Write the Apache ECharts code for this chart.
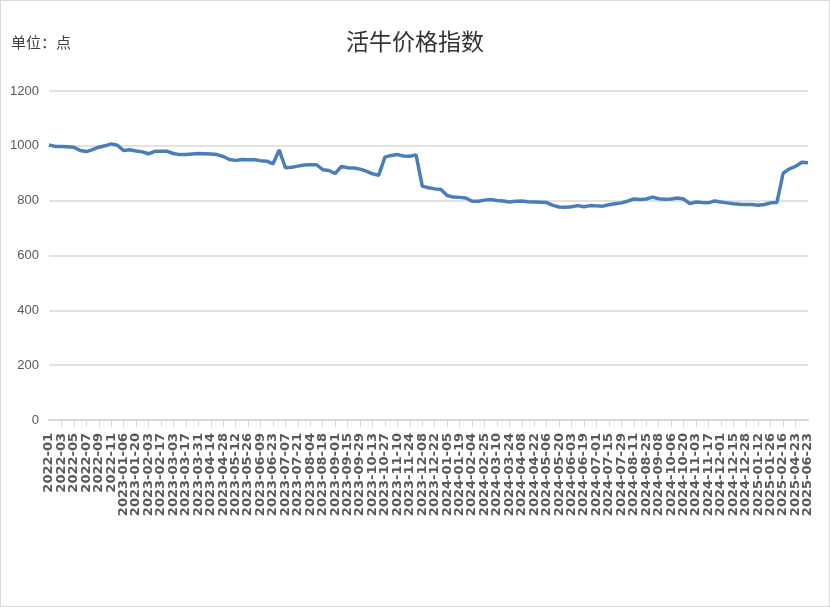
<!DOCTYPE html>
<html>
<head>
<meta charset="utf-8">
<script src="https://cdn.jsdelivr.net/npm/echarts@6/dist/echarts.min.js"></script>
<style>
  html, body { margin: 0; padding: 0; background: #fff; }
  #chart { width: 830px; height: 607px; box-sizing: border-box; border: 1px solid #d9d9d9; }
</style>
</head>
<body>
<div id="chart"></div>
<script>
// 2022 按月，2023 起按周
const months2022 = ['2022-01', '2022-02', '2022-03', '2022-04', '2022-05', '2022-06',
    '2022-07', '2022-08', '2022-09', '2022-10', '2022-11', '2022-12'];
const weeks2023 = ['2023-01-06', '2023-01-13', '2023-01-20', '2023-01-27', '2023-02-03', '2023-02-10',
    '2023-02-17', '2023-02-24', '2023-03-03', '2023-03-10', '2023-03-17', '2023-03-24', '2023-03-31',
    '2023-04-07', '2023-04-14', '2023-04-21', '2023-04-28', '2023-05-05', '2023-05-12', '2023-05-19',
    '2023-05-26', '2023-06-02', '2023-06-09', '2023-06-16', '2023-06-23', '2023-06-30', '2023-07-07',
    '2023-07-14', '2023-07-21', '2023-07-28', '2023-08-04', '2023-08-11', '2023-08-18', '2023-08-25',
    '2023-09-01', '2023-09-08', '2023-09-15', '2023-09-22', '2023-09-29', '2023-10-06', '2023-10-13',
    '2023-10-20', '2023-10-27', '2023-11-03', '2023-11-10', '2023-11-17', '2023-11-24', '2023-12-01',
    '2023-12-08', '2023-12-15', '2023-12-22', '2023-12-29'];
const weeks2024 = ['2024-01-05', '2024-01-12', '2024-01-19', '2024-01-26', '2024-02-04', '2024-02-18',
    '2024-02-25', '2024-03-03', '2024-03-10', '2024-03-17', '2024-03-24', '2024-03-31', '2024-04-08',
    '2024-04-14', '2024-04-22', '2024-04-28', '2024-05-06', '2024-05-12', '2024-05-20', '2024-05-26',
    '2024-06-03', '2024-06-09', '2024-06-19', '2024-06-23', '2024-07-01', '2024-07-08', '2024-07-15',
    '2024-07-22', '2024-07-29', '2024-08-04', '2024-08-11', '2024-08-18', '2024-08-25', '2024-09-01',
    '2024-09-08', '2024-09-22', '2024-10-06', '2024-10-13', '2024-10-20', '2024-10-27', '2024-11-03',
    '2024-11-10', '2024-11-17', '2024-11-24', '2024-12-01', '2024-12-08', '2024-12-15', '2024-12-22',
    '2024-12-28'];
const weeks2025 = ['2025-01-05', '2025-01-12', '2025-01-19', '2025-01-26', '2025-02-09', '2025-02-16',
    '2025-03-23', '2025-04-23', '2025-05-23', '2025-06-23'];

const values2022 = [1003, 998, 998, 997, 995, 983, 979, 986, 995, 1000, 1007, 1002];
const values2023 = [983, 986, 981, 978, 971, 980, 980, 980, 972, 968, 968, 970, 972,
    971, 970, 968, 961, 950, 947, 950, 949, 949, 946, 944, 934, 985,
    920, 922, 926, 930, 931, 931, 913, 910, 899, 925, 920, 919, 915,
    908, 898, 893, 959, 965, 968, 963, 962, 967, 853, 847, 843, 841];
const values2024 = [819, 813, 812, 810, 798, 798, 802, 804, 801, 799, 795, 798, 799,
    796, 795, 794, 793, 783, 777, 776, 778, 782, 778, 782, 781, 780,
    785, 789, 792, 798, 806, 804, 806, 813, 807, 805, 806, 810, 806,
    789, 795, 793, 792, 799, 795, 792, 789, 787, 786];
const values2025 = [786, 783, 786, 792, 793, 900, 916, 925, 940, 938];

const categories = [].concat(months2022, weeks2023, weeks2024, weeks2025);
const seriesData = [].concat(values2022, values2023, values2024, values2025);

const yTicks = [0, 200, 400, 600, 800, 1000, 1200];

const lastIdx = categories.length - 1;
const xLabelStyle = {
    rotate: 90,
    margin: 13,
    fontFamily: 'DejaVu Sans',
    fontWeight: 'bold',
    fontSize: 13,
    color: '#595959'
};

const myChart = echarts.init(document.getElementById('chart'));
const option = {
    animation: false,
    title: {
        text: '活牛价格指数',
        left: 'center',
        top: 24,
        textStyle: {
            fontFamily: 'Noto Sans CJK SC',
            fontSize: 23,
            fontWeight: 'normal',
            color: '#333'
        }
    },
    graphic: [{
        type: 'text',
        left: 10,
        top: 34,
        style: {
            text: '单位：点',
            font: '15px "Noto Sans CJK SC"',
            fill: '#404040'
        }
    }],
    grid: {
        left: 48,
        right: 21,
        top: 90,
        bottom: 186,
        containLabel: false
    },
    xAxis: [{
        type: 'category',
        position: 'bottom',
        data: categories,
        boundaryGap: false,
        axisLine: { lineStyle: { color: '#d9d9d9', width: 2 } },
        axisTick: { interval: 1, length: 7, lineStyle: { color: '#d9d9d9' } },
        // 中间的标签隔一个显示，首尾交给第二根轴
        axisLabel: Object.assign({
            interval: (idx) => idx % 2 === 0,
            showMinLabel: false,
            showMaxLabel: false
        }, xLabelStyle),
        splitLine: { show: false }
    }, {
        type: 'category',
        position: 'bottom',
        offset: 0,
        data: categories,
        boundaryGap: false,
        axisLine: { show: false },
        axisTick: { show: false },
        axisLabel: Object.assign({
            interval: (idx) => idx === 0 || idx === lastIdx,
            showMinLabel: true,
            showMaxLabel: true
        }, xLabelStyle),
        splitLine: { show: false }
    }],
    yAxis: {
        type: 'value',
        min: yTicks[0],
        max: yTicks[yTicks.length - 1],
        interval: yTicks[1] - yTicks[0],
        axisLine: { show: false },
        axisTick: { show: false },
        axisLabel: {
            margin: 10,
            fontFamily: 'Liberation Sans',
            fontSize: 13,
            color: '#595959',
            formatter: (v) => String(v)
        },
        splitLine: { lineStyle: { color: '#d9d9d9', width: 1.5 } }
    },
    series: [{
        name: '活牛价格指数',
        type: 'line',
        xAxisIndex: 0,
        data: seriesData,
        showSymbol: false,
        smooth: false,
        lineStyle: { color: '#4a7ebb', width: 3.5 },
        itemStyle: { color: '#4a7ebb' }
    }]
};
myChart.setOption(option);
</script>
</body>
</html>
